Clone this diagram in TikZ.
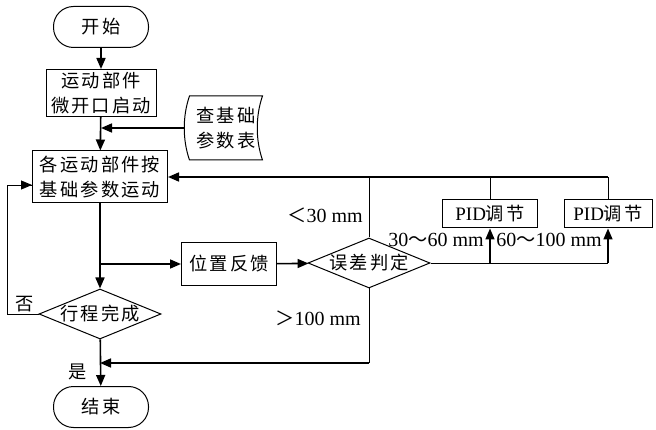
\documentclass[tikz,border=0pt]{standalone}
\usepackage{fontspec}
\setmainfont{Liberation Serif}
\newfontfamily\cjk[LetterSpace=12,Scale=0.96]{Noto Sans CJK SC}
\usetikzlibrary{arrows.meta,positioning,shapes.geometric}

\begin{document}
\begin{tikzpicture}[
    x=1pt, y=-1pt,
    font=\fontsize{20}{25}\selectfont,
    term/.style={rectangle, rounded corners=20pt, draw=black, line width=1pt, minimum width=95pt, minimum height=41pt, inner sep=0pt, font=\fontsize{19}{25}\selectfont\cjk},
    box/.style={rectangle, draw=black, line width=1pt, align=center, inner sep=0pt, font=\fontsize{19}{25}\selectfont\cjk},
    decision/.style={diamond, draw=black, line width=1pt, aspect=2.44, inner sep=0pt, minimum width=122pt, minimum height=50pt, font=\fontsize{19}{25}\selectfont\cjk},
    lbl/.style={inner sep=0pt, font=\fontsize{20}{25}\selectfont},
    arrow/.style={-{Triangle[length=11pt,width=9pt]}, draw=black, line width=1.6pt},
    thinline/.style={draw=black, line width=0.9pt}
]
\useasboundingbox (0,0) rectangle (656,430);
% main column
\node[term] (start) at (101,27) {开始};
\node[box, minimum width=110pt, minimum height=47pt] (move) at (101,93) {运动部件\\微开口启动};
\node[box, minimum width=135pt, minimum height=52pt] (run) at (100,177) {各运动部件按\\基础参数运动};
\node[decision] (done) at (100,314) {行程完成};
\node[term] (end) at (101,407) {结束};
% parameter table
\node[box, draw=none, minimum width=72pt, minimum height=63pt] (table) at (226,128) {查基础\\参数表};
\draw[line width=1pt] (table.north west) -- (table.north east)
    .. controls ([xshift=-7pt,yshift=-20pt]table.north east) and ([xshift=-7pt,yshift=20pt]table.south east) .. (table.south east)
    -- (table.south west)
    .. controls ([xshift=-7pt,yshift=20pt]table.south west) and ([xshift=-7pt,yshift=-20pt]table.north west) .. cycle;
% feedback and error check
\node[box, minimum width=95pt, minimum height=43pt] (fb) at (229,264) {位置反馈};
\node[decision] (err) at (369,263) {误差判定};
\node[box, minimum width=95pt, minimum height=28pt] (pid1) at (490,214) {{\rmfamily PID}调节};
\node[box, minimum width=88pt, minimum height=28pt] (pid2) at (608,214) {{\rmfamily PID}调节};
\coordinate (merge) at (369,363);

\draw[arrow] (start) -- (move);
\draw[arrow] (move) -- (run);
\draw[arrow] ([xshift=-5pt]table.west) -- (table.west -| move.south);
\draw[arrow] (run) -- (done);
\draw[arrow] (run.south |- fb.west) -- (fb.west);
\draw[arrow] (fb) -- (err);
\draw[arrow] (done) -- (end);
\draw[thinline] (done.west) -- ++(-31,0) |- ([yshift=-8pt]run.west);
\draw[arrow, line width=0.9pt] ([xshift=-12pt,yshift=-8pt]run.west) -- ([yshift=-8pt]run.west);
% error ranges
\draw[thinline] (err.north) -- (err.north |- run.east);
\draw[thinline] (pid1.north) -- (pid1.north |- run.east);
\draw[thinline] (pid2.north) -- (pid2.north |- run.east);
\draw[arrow] (pid2.north |- run.east) -- (run.east);
\draw[thinline] (err.east) -- (pid2.south |- err.east);
\draw[arrow] (pid1.south |- err.east) -- (pid1.south);
\draw[arrow] (pid2.south |- err.east) -- (pid2.south);
\draw[thinline] (err.south) -- (merge);
\draw[arrow] (merge) -- (merge -| done.south);

\node[lbl] (lt30) at (325,215) {{\cjk ＜}30 mm};
\node[lbl] (gt100) at (318,318) {{\cjk ＞}100 mm};
\node[lbl] (r3060) at (436,240) {30{\cjk ～}60 mm};
\node[lbl] (r60100) at (549,240) {60{\cjk ～}100 mm};
\node[lbl, font=\fontsize{19}{25}\selectfont\cjk] (no) at (25,304) {否};
\node[lbl, font=\fontsize{19}{25}\selectfont\cjk] (yes) at (78,372) {是};
\end{tikzpicture}
\end{document}
